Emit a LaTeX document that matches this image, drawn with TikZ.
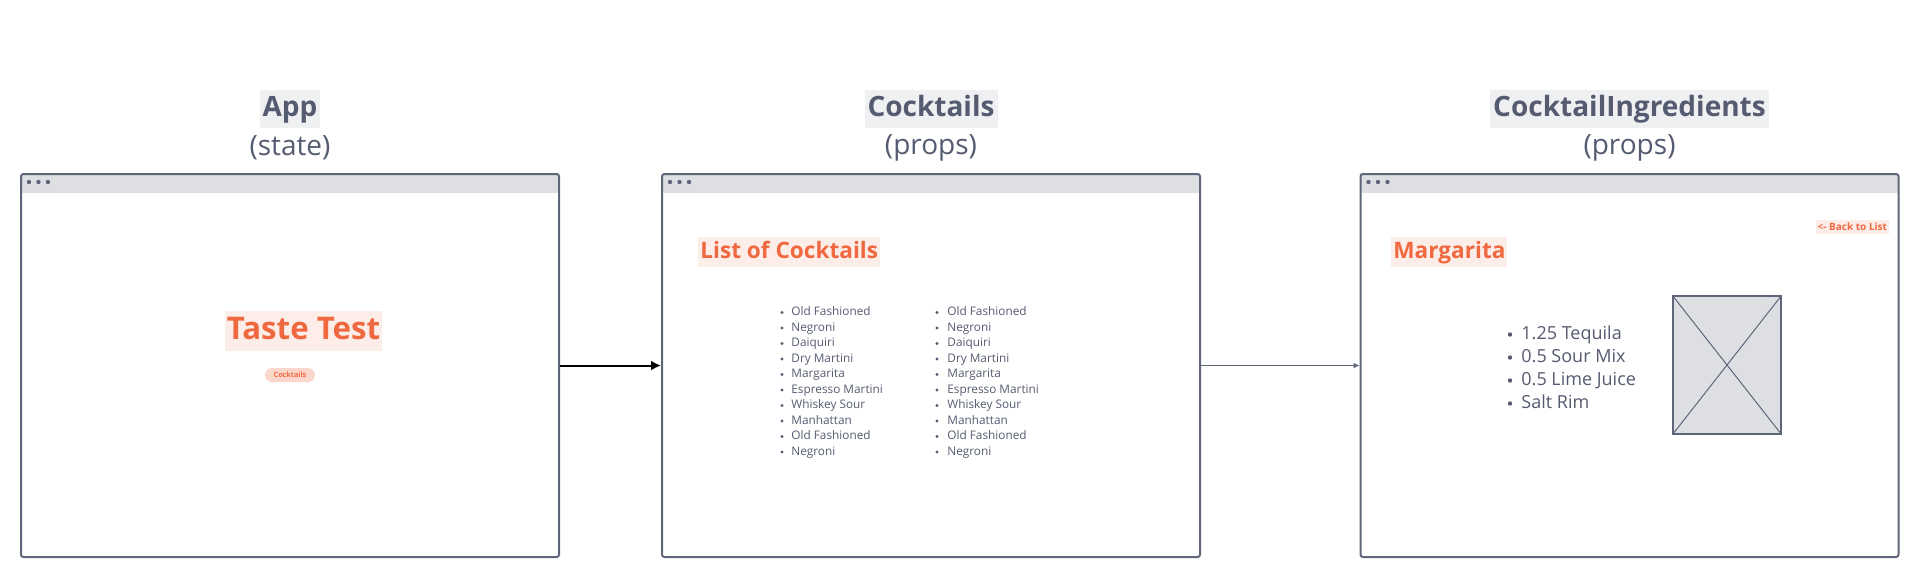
\documentclass[tikz,border=0pt]{standalone}
\usepackage{fontspec}
\setmainfont{Open Sans}
\usetikzlibrary{arrows.meta,positioning}

\definecolor{ink}{HTML}{555B70}
\definecolor{frame}{HTML}{60667A}
\definecolor{bar}{HTML}{DEDFE3}
\definecolor{tag}{HTML}{EFF0F2}
\definecolor{coral}{HTML}{F0683F}
\definecolor{peach}{HTML}{FDEDE8}
\definecolor{blush}{HTML}{FBD6CB}

\begin{document}
\begin{tikzpicture}[
  x = 0.5pt, y = -0.5pt,
  every node/.style = {inner sep=0pt, text=ink},
  window/.style     = {draw=frame, line width=1pt, rounded corners=1.2pt,
                       minimum width=269pt, minimum height=191.5pt,
                       path picture={\fill[bar] (path picture bounding box.north west)
                         rectangle ([yshift=-9.5pt]path picture bounding box.north east);}},
  comp/.style       = {fill=tag, font=\fontsize{14}{16}\selectfont\bfseries,
                       text height=10.5pt, text depth=3pt, inner xsep=1.5pt, inner ysep=2.75pt},
  kind/.style       = {font=\fontsize{14}{16}\selectfont},
  heading/.style    = {anchor=west, fill=peach, text=coral, font=\fontsize{11.3}{13}\selectfont\bfseries,
                       text height=8.5pt, text depth=2.5pt, inner xsep=1pt, inner ysep=2pt},
  item/.style       = {anchor=west, font=\fontsize{5.9}{7}\selectfont, text height=4.4pt, text depth=1.4pt},
  ingredient/.style = {anchor=west, font=\fontsize{9}{11}\selectfont, text height=6.7pt, text depth=2.1pt},
  pass/.style       = {draw=black, line width=1pt, -{Latex[length=5pt, width=5pt]}},
  hand/.style       = {draw=frame, line width=0.6pt, -{Latex[length=3pt, width=3pt]}},
]
\useasboundingbox (0,0) rectangle (1932,586);

% browser windows
\node[window] (app)         at ( 290,   365.5) {};
\node[window] (cocktails)   at ( 931,   365.5) {};
\node[window] (ingredients) at (1629.5, 365.5) {};
\foreach \w in {app, cocktails, ingredients}
  \foreach \dx in {9, 18.5, 28}
    \fill[frame] ([shift={(\dx,9)}]\w.north west) circle (1.1pt);

% component names
\node[comp] (appName)  at ( 290,   109) {App};
\node[kind] (appKind)  at ( 290,   148) {(state)};
\node[comp] (listName) at ( 931,   109) {Cocktails};
\node[kind] (listKind) at ( 931,   148) {(props)};
\node[comp] (ingName)  at (1629.5, 109) {CocktailIngredients};
\node[kind] (ingKind)  at (1629.5, 148) {(props)};

% app page
\node[fill=peach, text=coral, font=\fontsize{15.6}{18}\selectfont\bfseries,
      text height=11.5pt, text depth=3pt, inner xsep=1pt, inner ysep=2.75pt] (tasteTest) at (303.5, 331) {Taste Test};
\node[fill=blush, text=coral, font=\fontsize{3.6}{4}\selectfont\bfseries, rounded corners=3.5pt,
      minimum width=25pt, minimum height=7pt] (toList) at (290, 375) {Cocktails};

% cocktails page
\node[heading] (listHead) at (698, 252) {List of Cocktails};
\foreach \drink [count=\i from 0] in {Old Fashioned, Negroni, Daiquiri, Dry Martini, Margarita,
                                      Espresso Martini, Whiskey Sour, Manhattan, Old Fashioned, Negroni} {
  \fill[ink] (782, 312.5+15.5*\i) circle (0.8pt);
  \node[item] (left\i)  at (791, 312.5+15.5*\i) {\drink};
  \fill[ink] (937, 312.5+15.5*\i) circle (0.8pt);
  \node[item] (right\i) at (947, 312.5+15.5*\i) {\drink};
}

% ingredients page
\node[anchor=east, fill=peach, text=coral, font=\fontsize{5}{6}\selectfont\bfseries,
      inner xsep=0.8pt, inner ysep=1.5pt] (back) at (1889, 227) {<- Back to List};
\node[heading] (drinkHead) at (1391, 252) {Margarita};
\foreach \part [count=\i from 0] in {1.25 Tequila, 0.5 Sour Mix, 0.5 Lime Juice, Salt Rim} {
  \fill[ink] (1510, 334.5+23*\i) circle (1.1pt);
  \node[ingredient] (part\i) at (1521, 334.5+23*\i) {\part};
}
\node[draw=frame, fill=bar, line width=0.6pt, minimum width=54pt, minimum height=69pt] (photo) at (1727, 365) {};
\draw[frame, line width=0.5pt] (photo.north west) -- (photo.south east)
                               (photo.south west) -- (photo.north east);

% data flow
\draw[pass] (app.east) -- (cocktails.west);
\draw[hand] (cocktails.east) -- (ingredients.west);

\end{tikzpicture}
\end{document}
